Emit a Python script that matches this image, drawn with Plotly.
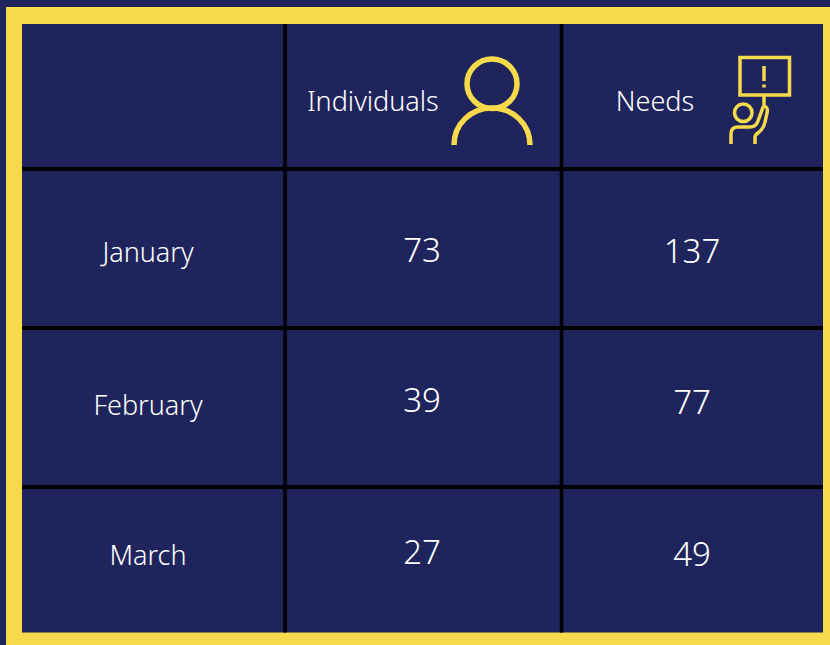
import plotly.graph_objects as go

# Data
months = ["January", "February", "March"]
individuals = [73, 39, 27]
needs = [137, 77, 49]
headers = ["Individuals", "Needs"]

# Layout constants (pixel grid of the 830x645 page)
W, H = 830, 645
NAVY, YELLOW, WHITE, BLACK = "#1f255c", "#f6da4b", "#ffffff", "#000000"
FONT = "Noto Sans"
month_x, ind_x, needs_x = 148, 422, 692
month_y = [255, 408, 558]
ind_y = [254, 404, 556]
needs_y = [255, 406, 558]
header_x = [373, 655]
header_y = 104
v_lines = [285, 561.5]
h_lines = [169, 328, 487]

fig = go.Figure()


def col(x, y, text, size):
    fig.add_trace(go.Scatter(
        x=[x] * len(text) if not isinstance(x, list) else x,
        y=y, text=text, mode="text", hoverinfo="skip",
        textposition="middle center",
        textfont=dict(family=FONT, size=size, color=WHITE, weight=300),
    ))


col(month_x, month_y, months, 27)
col(ind_x, ind_y, [str(v) for v in individuals], 33)
col(needs_x, needs_y, [str(v) for v in needs], 33)
col(header_x, [header_y, header_y], headers, 27)

shapes = [
    dict(type="rect", x0=6, x1=W + 5, y0=7, y1=H + 5, fillcolor=YELLOW, line_width=0, layer="below"),
    dict(type="rect", x0=22, x1=823, y0=24, y1=632.5, fillcolor=NAVY, line_width=0, layer="below"),
]
for x in v_lines:
    shapes.append(dict(type="line", x0=x, x1=x, y0=24, y1=632.5, line=dict(color=BLACK, width=3.6), layer="below"))
for y in h_lines:
    shapes.append(dict(type="line", x0=22, x1=823, y0=y, y1=y, line=dict(color=BLACK, width=3.8), layer="below"))

icon = dict(color=YELLOW, width=5.5)
shapes += [
    dict(type="circle", x0=467, x1=517, y0=59, y1=108.5, line=icon),
    dict(type="path", path="M454 145 C454 124 471 108 492 108 C513 108 530 124 530 145", line=icon),
]
thin = dict(color=YELLOW, width=3.5)
shapes += [
    dict(type="rect", x0=740, x1=789.5, y0=57.5, y1=95, line=thin),
    dict(type="line", x0=764, x1=764, y0=66, y1=81, line=thin),
    dict(type="line", x0=764, x1=764, y0=84.5, y1=87.5, line=thin),
    dict(type="line", x0=764, x1=764, y0=95, y1=105, line=thin),
    dict(type="circle", x0=734.5, x1=752, y0=104, y1=121.5, line=thin),
    dict(type="path",
         path="M731 144 L731 134 Q731 127 738 127 L750 127 Q756 127 758 121 L762 110 "
              "Q763 105 766 107 Q768 108 767 113 L765 122 Q764 128 759 132 Q755 135 755 137 L755 144",
         line=thin),
]

fig.update_layout(
    width=W, height=H, margin=dict(l=0, r=0, t=0, b=0),
    paper_bgcolor=NAVY, plot_bgcolor=NAVY, showlegend=False, shapes=shapes,
    xaxis=dict(range=[0, W], visible=False, fixedrange=True),
    yaxis=dict(range=[H, 0], visible=False, fixedrange=True),
)
fig.write_html("out.html", config=dict(displayModeBar=False),
               post_script="document.body.style.margin='0';document.body.style.overflow='hidden';")
